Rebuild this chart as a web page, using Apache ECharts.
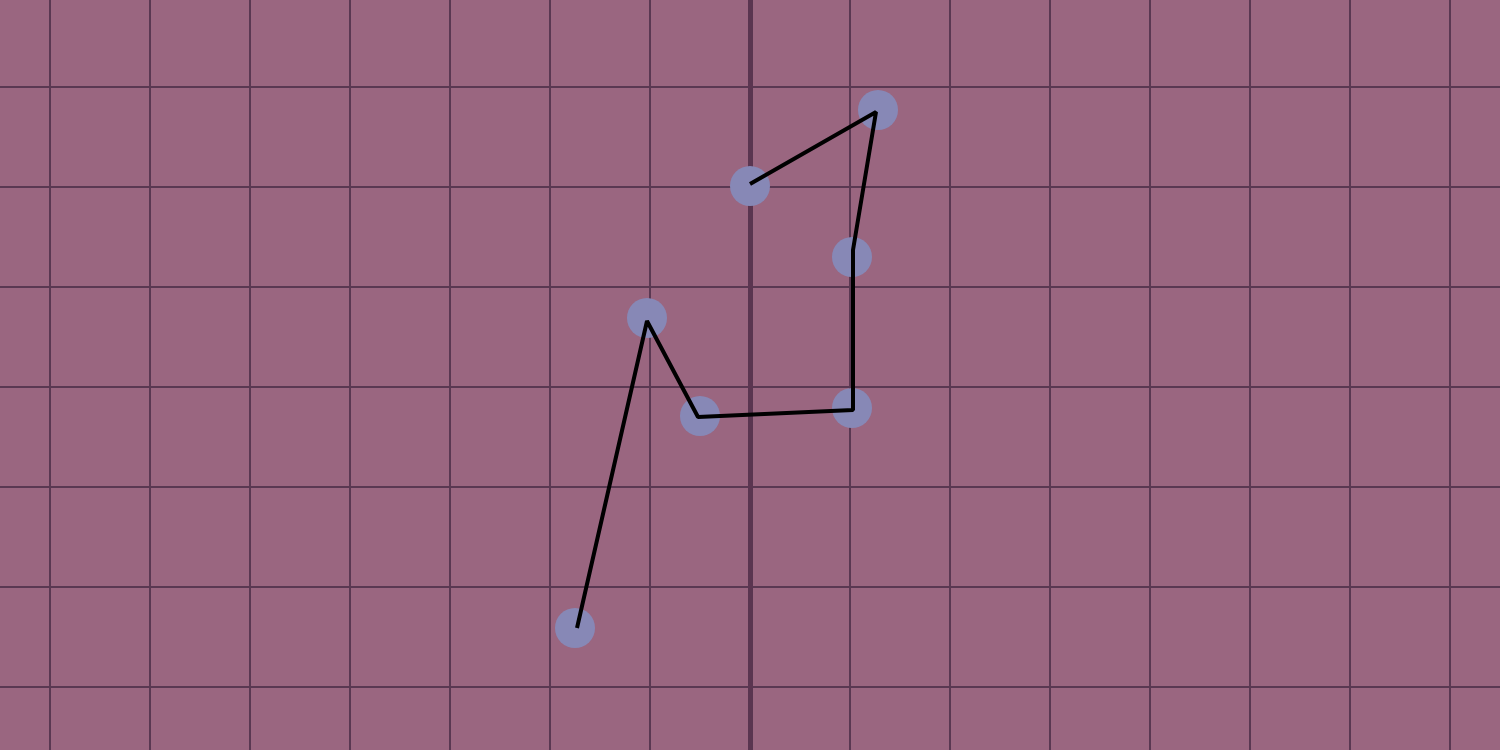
<!DOCTYPE html>
<html>
<head>
<meta charset="utf-8">
<script src="https://cdn.jsdelivr.net/npm/echarts@6/dist/echarts.min.js"></script>
<style>html,body{margin:0;padding:0;background:#9a6680;}#chart{width:1500px;height:750px;}</style>
</head>
<body>
<div id="chart"></div>
<script>
const xValues = [-1.75, -1.03, -0.50, 1.02, 1.02, 1.28, 0.00];
const yValues = [-2.41, 0.69, -0.29, -0.21, 1.30, 2.77, 2.01];
const lineX = [-1.73, -1.03, -0.52, 1.03, 1.03, 1.26, 0.00];
const lineY = [-2.41, 0.66, -0.30, -0.23, 1.37, 2.75, 2.03];

const points = xValues.map((x, i) => [x, yValues[i]]);
const linePts = lineX.map((x, i) => [x, lineY[i]]);

const chart = echarts.init(document.getElementById('chart'));
chart.setOption({
  backgroundColor: '#9a6680',
  animation: false,
  grid: { left: -50, width: 1600, top: -13, height: 800, containLabel: false, outerBoundsMode: 'none' },
  xAxis: {
    type: 'value', min: -8, max: 8, interval: 1,
    axisLine: { show: false },
    axisTick: { show: false }, axisLabel: { show: false },
    splitLine: { show: true, lineStyle: { color: '#5a3852', width: 2 } }
  },
  yAxis: {
    type: 'value', min: -4, max: 4, interval: 1,
    axisLine: { show: true, onZero: true, lineStyle: { color: '#5a3550', width: 5 } },
    axisTick: { show: false }, axisLabel: { show: false },
    splitLine: { show: true, lineStyle: { color: '#5a3852', width: 2 } }
  },
  series: [
    {
      type: 'scatter', data: points, symbolSize: 40,
      itemStyle: { color: '#8788b6', opacity: 1 }, z: 2
    },
    {
      type: 'line', data: linePts, showSymbol: false, symbol: 'none',
      lineStyle: { color: '#000000', width: 4 }, z: 3
    }
  ]
});
</script>
</body>
</html>
